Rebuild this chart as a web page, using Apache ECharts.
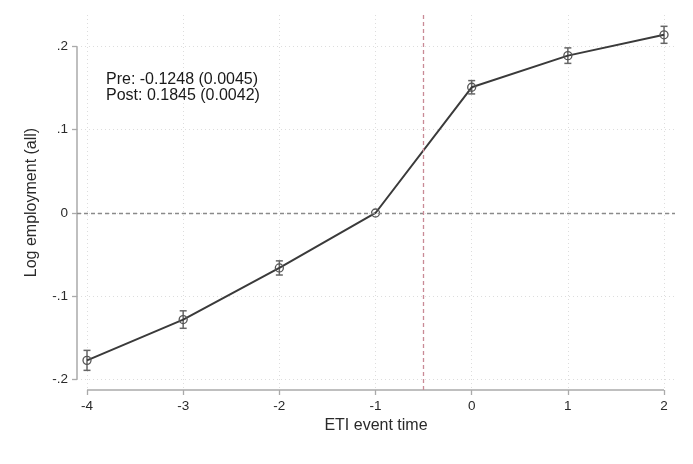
<!DOCTYPE html>
<html><head><meta charset="utf-8">
<script src="https://cdn.jsdelivr.net/npm/echarts@6/dist/echarts.min.js"></script>
<style>html,body{margin:0;padding:0;background:#fff}#c{width:693px;height:464px}</style>
</head><body><div id="c"></div>
<script>
// ---- data ----
const eventTimes = [-4, -3, -2, -1, 0, 1, 2];
const estimates  = [-0.177, -0.128, -0.066, 0, 0.151, 0.189, 0.214];
const ciHalf     = [0.012, 0.0105, 0.0085, 0, 0.008, 0.0093, 0.0102];
const xTicks = [-4, -3, -2, -1, 0, 1, 2];
const yTicks = [-0.2, -0.1, 0, 0.1, 0.2];
const treatmentX = -0.5;
const annotationLines = ['Pre: -0.1248 (0.0045)', 'Post: 0.1845 (0.0042)'];
const xTitle = 'ETI event time';
const yTitle = 'Log employment (all)';

const X_MIN = -4.104, X_MAX = 2.114, Y_MIN = -0.2126, Y_MAX = 0.2378;
const FONT = 'Liberation Sans, Arial, sans-serif';
const fmtY = v => v === 0 ? '0' : (v < 0 ? '-' : '') + String(Math.abs(+v.toFixed(3))).replace(/^0/, '');

const chart = echarts.init(document.getElementById('c'), null, {renderer: 'canvas'});
const pointData = eventTimes.map((x, i) => [x, estimates[i]]);
const errData = eventTimes.map((x, i) => [x, estimates[i] - ciHalf[i], estimates[i] + ciHalf[i]]).filter(d => d[2] > d[1]);

chart.setOption({
  animation: false,
  backgroundColor: '#fff',
  grid: {left: 77, right: 18, top: 15, bottom: 74},
  xAxis: {
    type: 'value', min: X_MIN, max: X_MAX,
    axisLine: {show: false, onZero: false},
    axisTick: {show: true, length: 5, customValues: xTicks, lineStyle: {color: '#aaa', width: 1.3}},
    axisLabel: {customValues: xTicks, margin: 9, color: '#2a2a2a', fontSize: 13.5, fontFamily: FONT,
      formatter: v => String(v)},
    splitLine: {show: true, lineStyle: {color: '#ddd', type: [1, 3], width: 1}},
    name: xTitle, nameLocation: 'middle', nameGap: 28,
    nameTextStyle: {color: '#2a2a2a', fontSize: 16, fontFamily: FONT}
  },
  yAxis: {
    type: 'value', min: Y_MIN, max: Y_MAX,
    axisLine: {show: false, onZero: false},
    axisTick: {show: true, length: 5, customValues: yTicks, lineStyle: {color: '#aaa', width: 1.3}},
    axisLabel: {customValues: yTicks, margin: 9, color: '#2a2a2a', fontSize: 13.5, fontFamily: FONT,
      formatter: v => fmtY(v)},
    splitLine: {show: true, lineStyle: {color: '#ddd', type: [1, 3], width: 1}},
    name: yTitle, nameLocation: 'middle', nameGap: 37, nameRotate: 90,
    nameTextStyle: {color: '#2a2a2a', fontSize: 16, fontFamily: FONT}
  },
  graphic: [{
    type: 'text', left: 106, top: 72,
    style: {text: annotationLines.join('\n'), font: '16px ' + FONT, fill: '#1a1a1a', lineHeight: 16}
  }],
  series: [
    {
      type: 'custom', name: 'frame', silent: true, clip: false, z: 1,
      data: [[0]],
      renderItem: (params, api) => {
        const a = api.coord([X_MIN, yTicks[0]]), b = api.coord([X_MIN, yTicks[yTicks.length - 1]]);
        const c = api.coord([xTicks[0], Y_MIN]), d = api.coord([xTicks[xTicks.length - 1], Y_MIN]);
        const st = {stroke: '#aaa', lineWidth: 1.5};
        return {type: 'group', children: [
          {type: 'line', shape: {x1: a[0], y1: a[1], x2: b[0], y2: b[1]}, style: st},
          {type: 'line', shape: {x1: c[0], y1: c[1], x2: d[0], y2: d[1]}, style: st}
        ]};
      }
    },
    {
      type: 'line', name: 'ref', data: [], silent: true, z: 2,
      markLine: {
        silent: true, symbol: 'none', label: {show: false},
        data: [
          {yAxis: 0, lineStyle: {color: '#8a8a8a', type: [4, 3], width: 1.3}},
          {xAxis: treatmentX, lineStyle: {color: '#c98a96', type: [4, 3], width: 1.3}}
        ]
      }
    },
    {
      type: 'custom', name: 'ci', data: errData, z: 3, clip: false,
      renderItem: (params, api) => {
        const x = api.value(0);
        const lo = api.coord([x, api.value(1)]), hi = api.coord([x, api.value(2)]);
        const w = 3.5, st = {stroke: '#666', lineWidth: 1.5};
        return {type: 'group', children: [
          {type: 'line', shape: {x1: lo[0], y1: lo[1], x2: hi[0], y2: hi[1]}, style: st},
          {type: 'line', shape: {x1: lo[0] - w, y1: lo[1], x2: lo[0] + w, y2: lo[1]}, style: st},
          {type: 'line', shape: {x1: hi[0] - w, y1: hi[1], x2: hi[0] + w, y2: hi[1]}, style: st}
        ]};
      }
    },
    {
      type: 'line', name: 'est', data: pointData, z: 4,
      lineStyle: {color: '#3a3a3a', width: 2},
      symbol: 'circle', symbolSize: 8, showSymbol: true,
      itemStyle: {color: 'rgba(255,255,255,0)', borderColor: '#555', borderWidth: 1.3}
    }
  ]
});
</script></body></html>
